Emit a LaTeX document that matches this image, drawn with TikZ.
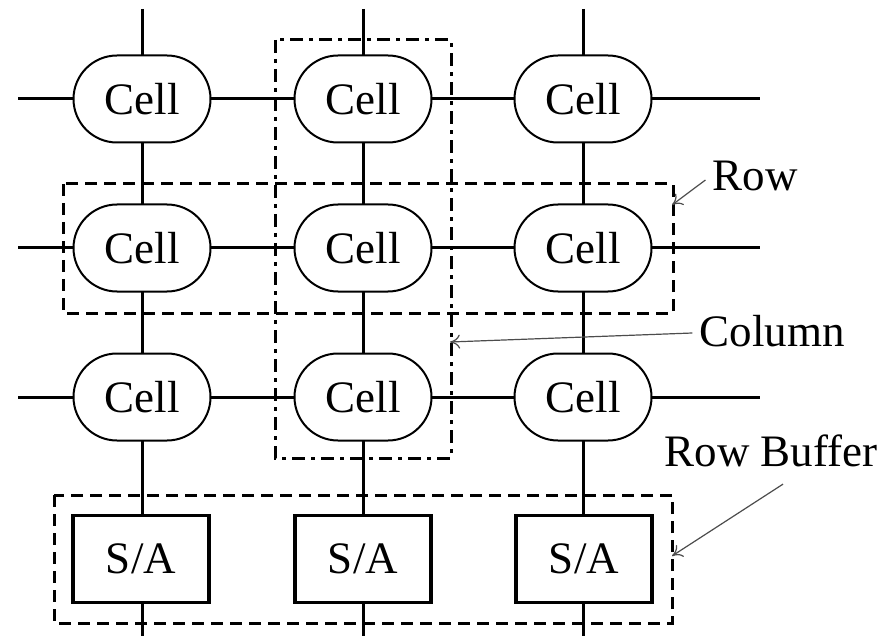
\documentclass[tikz,border=0pt]{standalone}
\usepackage{fontspec}
\setmainfont{Liberation Serif}
\usetikzlibrary{shapes.misc,arrows.meta}
\tikzset{
  cell/.style={rounded rectangle, draw, line width=1pt, fill=white,
    minimum width=68.5pt, minimum height=43.5pt, inner sep=0pt},
  sa/.style={rectangle, draw, line width=1.6pt, fill=white,
    minimum width=68pt, minimum height=43.5pt, inner sep=0pt},
  wire/.style={line width=1.5pt},
  group/.style={line width=1.5pt, dash pattern=on 6pt off 3.5pt},
  colgroup/.style={line width=1.5pt, dash pattern=on 6.5pt off 3pt on 2pt off 3pt},
  pointer/.style={draw=black!70, line width=0.6pt, -{To[length=5pt,width=7pt]}},
  lbl/.style={font=\fontsize{22.5}{26}\selectfont}
}
\begin{document}
\begin{tikzpicture}[x=0.5pt,y=-0.5pt,every node/.style={lbl}]
    \useasboundingbox (0,0) rectangle (883,636);
    % group boxes
    \draw[group] (63,184) rectangle (673,313);
    \draw[colgroup] (275,40) rectangle (451,458);
    \draw[group] (54,495) rectangle (672,623);
    % wire ends
    \coordinate (t1) at (142,9);
    \coordinate (t2) at (363,9);
    \coordinate (t3) at (583,9);
    \coordinate (b1) at (142,636);
    \coordinate (b2) at (363,636);
    \coordinate (b3) at (583,636);
    \coordinate (l1) at (18,99);
    \coordinate (l2) at (18,248);
    \coordinate (l3) at (18,397);
    \coordinate (r1) at (760,99);
    \coordinate (r2) at (760,248);
    \coordinate (r3) at (760,397);
    % word lines
    \draw[wire] (l1) -- (r1);
    \draw[wire] (l2) -- (r2);
    \draw[wire] (l3) -- (r3);
    % bit lines
    \draw[wire] (t1) -- (b1);
    \draw[wire] (t2) -- (b2);
    \draw[wire] (t3) -- (b3);
    % cells
    \node[cell] (c11) at (142,99) {Cell};
    \node[cell] (c12) at (363,99) {Cell};
    \node[cell] (c13) at (583,99) {Cell};
    \node[cell] (c21) at (142,248) {Cell};
    \node[cell] (c22) at (363,248) {Cell};
    \node[cell] (c23) at (583,248) {Cell};
    \node[cell] (c31) at (142,397) {Cell};
    \node[cell] (c32) at (363,397) {Cell};
    \node[cell] (c33) at (583,397) {Cell};
    % sense amplifiers
    \node[sa] (sa1) at (141,559) {S/A};
    \node[sa] (sa2) at (363,559) {S/A};
    \node[sa] (sa3) at (584,559) {S/A};
    % labels
    \node (rowlbl) at (755,176) {Row};
    \node (collbl) at (772,331) {Column};
    \node (rblbl) at (771,451) {Row Buffer};
    \coordinate (rowtip) at (672,205);
    \coordinate (coltip) at (450,342);
    \coordinate (rbtip) at (672,556);
    \draw[pointer] ([yshift=-2pt]rowlbl.west) -- (rowtip);
    \draw[pointer] ([yshift=-1pt]collbl.west) -- (coltip);
    \draw[pointer] ([xshift=6pt,yshift=-5pt]rblbl.south) -- (rbtip);
  \end{tikzpicture}
\end{document}
